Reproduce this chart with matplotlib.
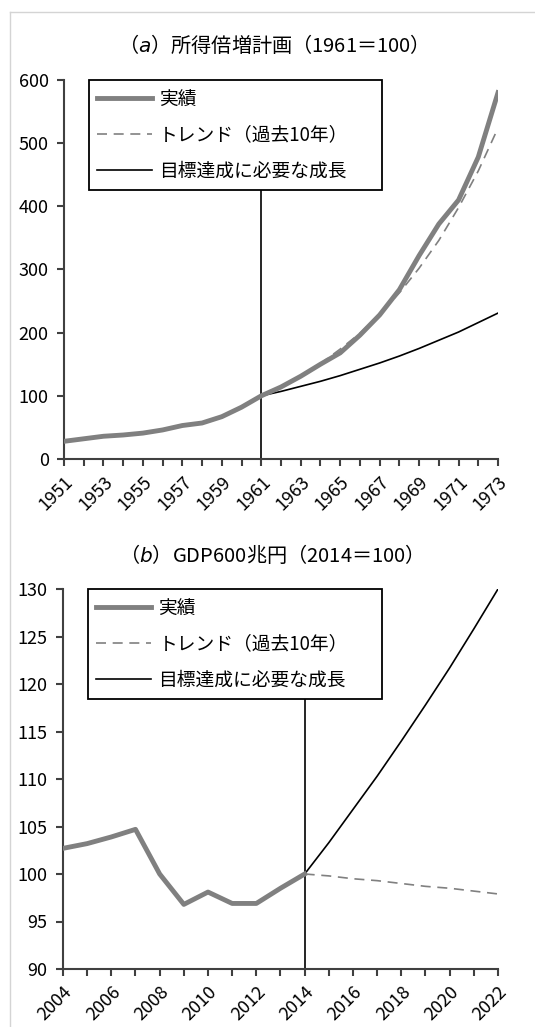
import numpy as np
import matplotlib
matplotlib.use("Agg")
import matplotlib.pyplot as plt
from matplotlib.lines import Line2D

plt.rcParams['font.family'] = ['Noto Sans CJK JP', 'DejaVu Sans']

# (a) income doubling plan, 1961 = 100
years_a = list(range(1951, 1974))
actual_a = [28, 32, 36, 38, 41, 46, 53, 57, 67, 82, 100, 114, 131, 150, 168,
            196, 228, 268, 322, 372, 410, 478, 580]
trend_years_a = list(range(1961, 1974))
trend_a = [100, 115, 132, 151, 174, 199, 229, 263, 302, 346, 398, 456, 524]
target_a = [100, 107, 115, 123, 132, 142, 152, 163, 175, 188, 201, 216, 231]

# (b) GDP 600 trillion yen, 2014 = 100
years_b = list(range(2004, 2015))
actual_b = [102.7, 103.2, 103.9, 104.7, 100.0, 96.8, 98.1, 96.9, 96.9, 98.5, 100.0]
trend_years_b = list(range(2014, 2023))
trend_b = [100.0, 99.8, 99.5, 99.3, 99.0, 98.7, 98.5, 98.2, 97.9]
target_b = [100.0, 103.3, 106.8, 110.3, 114.0, 117.8, 121.7, 125.8, 130.0]

labels = ['実績', 'トレンド（過去10年）', '目標達成に必要な成長']

GRAY = '#808080'
SPINE = '#404040'

fig = plt.figure(figsize=(5.35, 10.27), dpi=100)

# faint outer frame
fig.add_artist(Line2D([10/535, 10/535], [0, 1 - 12/1027], color='#d4d4d4', lw=1))
fig.add_artist(Line2D([10/535, 1], [1 - 12/1027, 1 - 12/1027], color='#d4d4d4', lw=1))

ax1 = fig.add_axes([64/535, 1 - 459/1027, 434/535, 379/1027])
ax2 = fig.add_axes([63/535, 1 - 969/1027, 435/535, 380/1027])


def style(ax):
    for s in ['top', 'right']:
        ax.spines[s].set_visible(False)
    for s in ['left', 'bottom']:
        ax.spines[s].set_color(SPINE)
        ax.spines[s].set_linewidth(1.5)
    ax.tick_params(which='both', direction='out', length=5, width=1.5,
                   color=SPINE, labelsize=13)
    ax.tick_params(axis='y', pad=6)
    ax.tick_params(axis='x', pad=5)
    for lab in ax.get_xticklabels():
        lab.set_rotation(45)
        lab.set_ha('right')
        lab.set_va('top')
        lab.set_rotation_mode('anchor')


def draw(ax, yrs, act, tyrs, trd, tgt, split):
    ax.axvline(split, color='black', lw=1.2, zorder=1)
    ax.plot(yrs, act, color=GRAY, lw=3.5, label=labels[0], zorder=3,
            solid_joinstyle='round')
    ax.plot(tyrs, trd, color=GRAY, lw=1.2, ls=(0, (6, 4)), label=labels[1], zorder=2)
    ax.plot(tyrs, tgt, color='black', lw=1.2, label=labels[2], zorder=2)
    leg = ax.legend(loc='upper left', bbox_to_anchor=(0.0576, 1.0, 0.675, 0.0),
                    mode='expand', fontsize=13.5, frameon=True, fancybox=False,
                    edgecolor='black', framealpha=1, borderaxespad=0,
                    handlelength=2.9, handletextpad=0.4, labelspacing=0.8,
                    borderpad=0.45)
    leg.get_frame().set_linewidth(1.3)
    leg.set_zorder(5)


draw(ax1, years_a, actual_a, trend_years_a, trend_a, target_a, 1961)
ax1.set_xlim(1951, 1973)
ax1.set_ylim(0, 600)
ax1.set_xticks(list(range(1951, 1974, 2)))
ax1.set_xticks(years_a, minor=True)
ax1.set_yticks(range(0, 601, 100))
style(ax1)

draw(ax2, years_b, actual_b, trend_years_b, trend_b, target_b, 2014)
ax2.set_xlim(2004, 2022)
ax2.set_ylim(90, 130)
ax2.set_xticks(list(range(2004, 2023, 2)))
ax2.set_xticks(list(range(2004, 2023)), minor=True)
ax2.set_yticks(range(90, 131, 5))
style(ax2)

fig.text(268/535, 1 - 45/1027, '（$\\mathit{a}$）所得倍増計画（1961＝100）',
         ha='center', va='center', fontsize=14.5)
fig.text(266/535, 1 - 555/1027, '（$\\mathit{b}$）GDP600兆円（2014＝100）',
         ha='center', va='center', fontsize=14.5)

fig.savefig('out.png', dpi=100)
